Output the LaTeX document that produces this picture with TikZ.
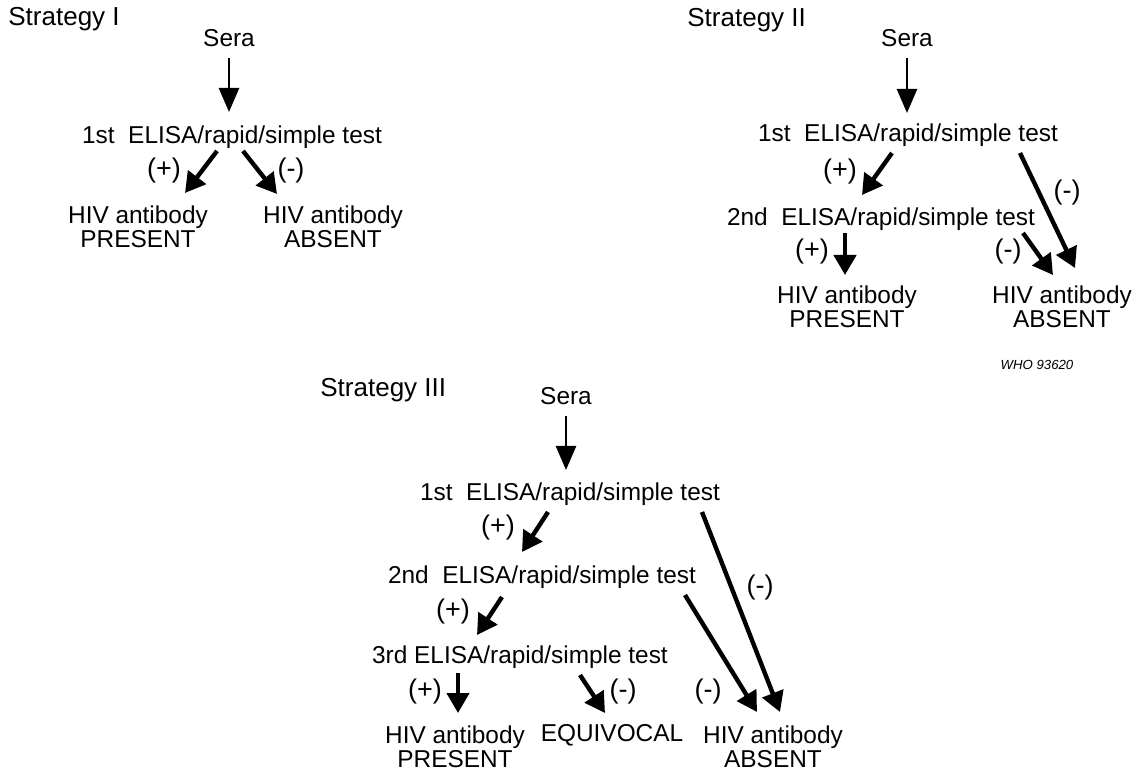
\documentclass[tikz,border=0pt]{standalone}
\usepackage{fontspec}
\setmainfont{Liberation Sans}
\usetikzlibrary{arrows.meta}
\tikzstyle{txt}=[font=\fontsize{12.2}{10.5}\selectfont,inner sep=0pt,align=center]
\tikzstyle{testline}=[txt,text depth=0pt]
\tikzstyle{sign}=[font=\fontsize{13.5}{15}\selectfont,inner sep=0pt]
\tikzstyle{title}=[font=\fontsize{13}{15}\selectfont,inner sep=0pt,anchor=west]
\tikzstyle{whotag}=[font=\fontsize{6.6}{8}\selectfont\itshape,inner sep=0pt]
\tikzstyle{seraarrow}=[draw,line width=1.3pt,-{Triangle[length=12pt,width=10pt]}]
\tikzstyle{testarrow}=[draw,line width=2.2pt,-{Triangle[length=10pt,width=11pt]}]

\begin{document}
\begin{tikzpicture}[x=0.5pt,y=-0.5pt]
    \useasboundingbox (0,0) rectangle (1147,775);

    % Strategy I
    \node[title] (s1title) at (8,19) {Strategy I};
    \node[txt] (s1sera) at (229,38) {Sera};
    \node[testline] (s1t1) at (232,135) {1st\ \ ELISA/rapid/simple test};
    \node[txt] (s1pos) at (138,227) {HIV antibody\\PRESENT};
    \node[txt] (s1neg) at (333,227) {HIV antibody\\ABSENT};
    \node[sign] (s1plus) at (164,171) {(+)};
    \node[sign] (s1minus) at (291,171) {(-)};

    % Strategy II
    \node[title] (s2title) at (687,20) {Strategy II};
    \node[txt] (s2sera) at (907,38) {Sera};
    \node[testline] (s2t1) at (908,133) {1st\ \ ELISA/rapid/simple test};
    \node[testline] (s2t2) at (881,217) {2nd\ \ ELISA/rapid/simple test};
    \node[txt] (s2pos) at (847,307) {HIV antibody\\PRESENT};
    \node[txt] (s2neg) at (1062,307) {HIV antibody\\ABSENT};
    \node[sign] (s2plusa) at (840,172) {(+)};
    \node[sign] (s2minusa) at (1067,193) {(-)};
    \node[sign] (s2plusb) at (812,252) {(+)};
    \node[sign] (s2minusb) at (1008,252) {(-)};
    \node[whotag] (who) at (1037,365) {WHO 93620};

    % Strategy III
    \node[title] (s3title) at (320,390) {Strategy III};
    \node[txt] (s3sera) at (566,396) {Sera};
    \node[testline] (s3t1) at (570,492) {1st\ \ ELISA/rapid/simple test};
    \node[testline] (s3t2) at (542,575) {2nd\ \ ELISA/rapid/simple test};
    \node[testline] (s3t3) at (520,655) {3rd ELISA/rapid/simple test};
    \node[txt] (s3pos) at (455,747) {HIV antibody\\PRESENT};
    \node[txt] (s3equ) at (612,735) {EQUIVOCAL};
    \node[txt] (s3neg) at (773,747) {HIV antibody\\ABSENT};
    \node[sign] (s3plusa) at (498,528) {(+)};
    \node[sign] (s3minusa) at (760,588) {(-)};
    \node[sign] (s3plusb) at (453,612) {(+)};
    \node[sign] (s3minusb) at (708,692) {(-)};
    \node[sign] (s3plusc) at (425,692) {(+)};
    \node[sign] (s3minusc) at (623,692) {(-)};

    % Sera arrows
    \foreach \source/ \dest/\tx/\ty in {s1sera/s1t1/-3/-23, s2sera/s2t1/-1/-20, s3sera/s3t1/-4/-22}
        \path[seraarrow] ([shift={(0,20)}]\source.center) -- ([shift={(\tx,\ty)}]\dest.center);

    % Test result arrows
    \foreach \source/\sx/\sy/ \dest/\tx/\ty in {s1t1/-15/16/s1pos/47/-34, s1t1/11/16/s1neg/-56/-33,
        s2t1/-16/20/s2t2/-19/-22, s2t1/112/20/s2neg/13/-39,
        s2t2/-36/16/s2pos/-2/-32, s2t2/142/16/s2neg/-9/-32,
        s3t1/-22/20/s3t2/-20/-23, s3t1/132/20/s3neg/7/-35,
        s3t2/-40/22/s3t3/-43/-20, s3t2/143/20/s3neg/-16/-35,
        s3t3/-62/18/s3pos/3/-34, s3t3/60/20/s3equ/-7/-22}
        \path[testarrow] ([shift={(\sx,\sy)}]\source.center) -- ([shift={(\tx,\ty)}]\dest.center);

\end{tikzpicture}
\end{document}
